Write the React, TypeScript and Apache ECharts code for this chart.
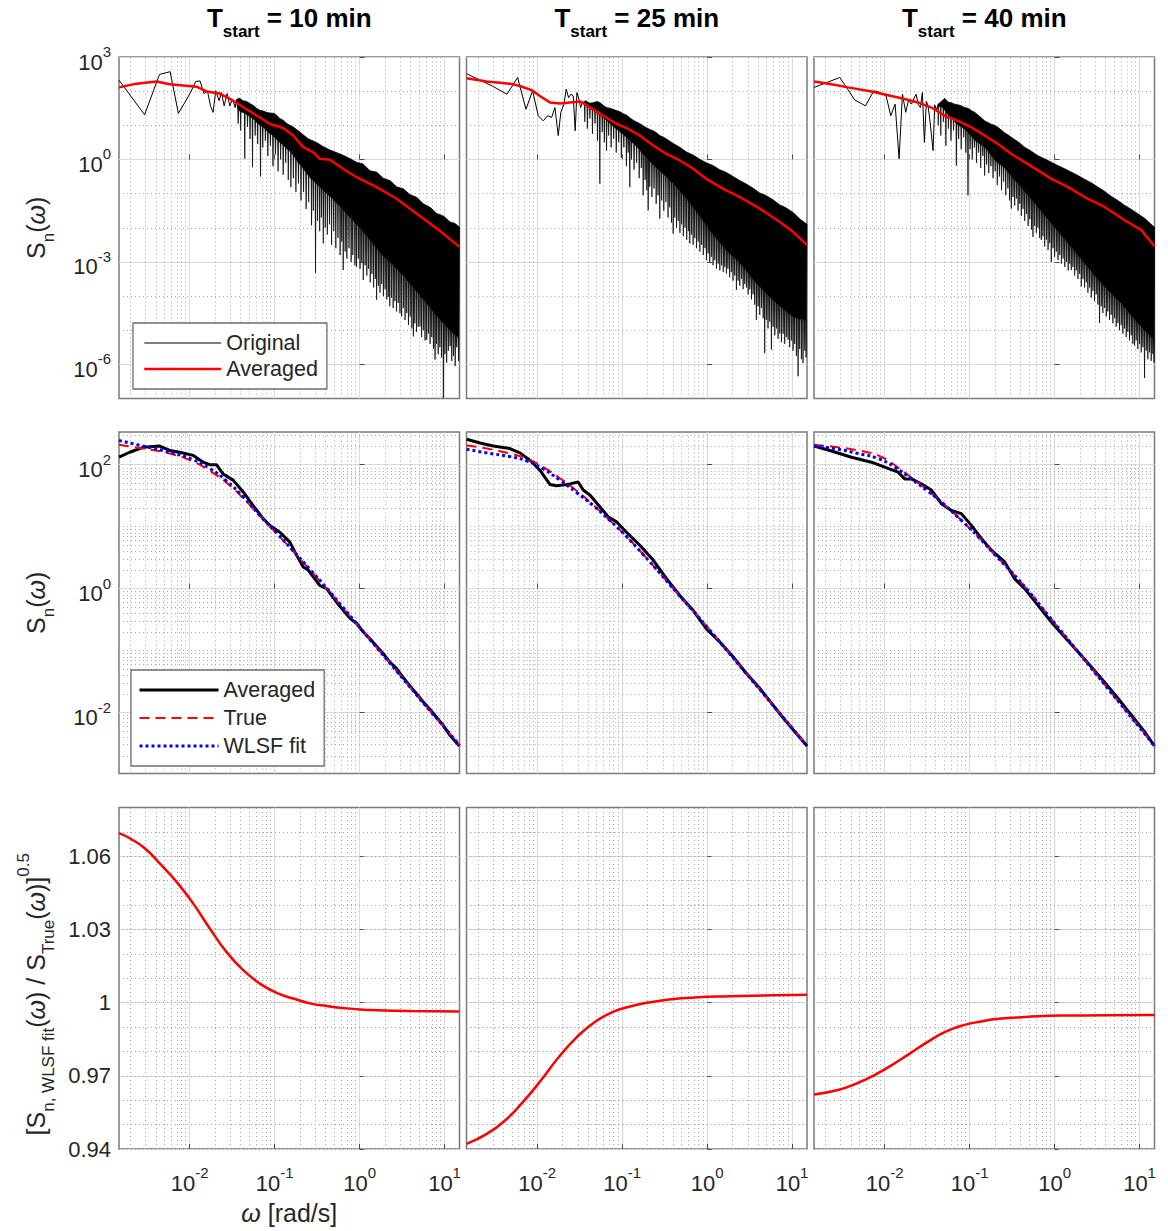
import React, { useEffect, useRef } from 'react';
import * as echarts from 'echarts';

// ---------------------------------------------------------------------------
// Axis ranges (the log axes are drawn on log10 scales: values below are log10)
// ---------------------------------------------------------------------------
const W_MIN = -2.833; // log10(omega) at left edge
const W_MAX = 1.176; // log10(omega) at right edge
const TOP_S_MIN = -7;
const TOP_S_MAX = 3;
const MID_S_MIN = -2.984;
const MID_S_MAX = 2.527;
const RATIO_MIN = 0.94;
const RATIO_MAX = 1.08;

const X_TICKS = [-2, -1, 0, 1];
const TOP_Y_TICKS = [-6, -3, 0, 3];
const MID_Y_TICKS = [-2, 0, 2];
const BOT_Y_TICKS = [0.94, 0.97, 1, 1.03, 1.06];

const T_START = ['10', '25', '40'];

// ---------------------------------------------------------------------------
// Row 1: original periodogram (log10 omega, log10 S)
// sparse low-frequency part (individual FFT bins)
// ---------------------------------------------------------------------------
const origSparseT10 = [
  [-2.833, 2.32], [-2.532, 1.31], [-2.356, 2.49], [-2.231, 2.57], [-2.134, 1.35], [-2.055, 1.68],
  [-1.988, 1.98], [-1.93, 2.28], [-1.879, 2.3], [-1.833, 1.93], [-1.792, 2.01], [-1.754, 1.55],
  [-1.725, 1.38], [-1.694, 2.01], [-1.654, 1.72], [-1.627, 1.96], [-1.595, 1.57], [-1.56, 1.93],
  [-1.528, 1.57], [-1.497, 1.77], [-1.465, 1.52], [-1.45, 1.75],
];
const origSparseT25 = [
  [-2.831, 2.51], [-2.529, 2.15], [-2.357, 1.91], [-2.231, 2.4], [-2.133, 1.47], [-2.055, 2.01],
  [-1.988, 1.28], [-1.929, 1.13], [-1.878, 1.28], [-1.831, 1.23], [-1.792, 1.52], [-1.753, 0.7],
  [-1.722, 1.38], [-1.686, 1.62], [-1.659, 2.06], [-1.631, 1.81], [-1.604, 1.91], [-1.576, 1.86],
  [-1.553, 0.84], [-1.533, 1.96], [-1.51, 1.77], [-1.49, 1.52], [-1.467, 1.67],
];
const origSparseT40 = [
  [-2.831, 2.11], [-2.529, 2.4], [-2.353, 1.74], [-2.227, 1.57], [-2.129, 2.01], [-2.051, 1.96],
  [-1.984, 1.86], [-1.929, 1.28], [-1.878, 1.62], [-1.831, 0.02], [-1.792, 1.91], [-1.753, 1.38],
  [-1.722, 1.72], [-1.686, 1.62], [-1.659, 1.77], [-1.631, 1.91], [-1.604, 1.6], [-1.58, 1.52],
  [-1.557, 1.96], [-1.533, 0.5], [-1.51, 1.7], [-1.49, 1.57], [-1.471, 1.2], [-1.431, 0.26],
  [-1.412, 1.6], [-1.392, 1.45],
];

// dense part: upper edge of the black band (log10 omega, log10 S)
const origUpperT10 = [
  [-1.45, 1.75], [-1.42, 1.8], [-1.371, 1.72], [-1.33, 1.7], [-1.293, 1.64], [-1.25, 1.58],
  [-1.214, 1.5], [-1.175, 1.44], [-1.136, 1.42], [-1.095, 1.38], [-1.057, 1.36], [-1.01, 1.35],
  [-0.979, 1.3], [-0.94, 1.2], [-0.9, 1.15], [-0.86, 1.06], [-0.821, 1.0], [-0.78, 0.95],
  [-0.743, 0.88], [-0.7, 0.8], [-0.664, 0.72], [-0.6, 0.6], [-0.507, 0.5], [-0.43, 0.38],
  [-0.35, 0.28], [-0.27, 0.2], [-0.193, 0.12], [-0.11, 0.02], [-0.036, -0.08], [0.04, -0.13],
  [0.122, -0.33], [0.2, -0.37], [0.279, -0.55], [0.358, -0.62], [0.436, -0.8], [0.515, -0.86],
  [0.593, -1.03], [0.672, -1.11], [0.75, -1.3], [0.83, -1.4], [0.908, -1.58], [0.99, -1.66],
  [1.065, -1.83], [1.12, -1.87], [1.176, -1.98],
];
const origUpperT25 = [
  [-1.467, 1.67], [-1.43, 1.72], [-1.39, 1.65], [-1.341, 1.66], [-1.3, 1.7], [-1.263, 1.67],
  [-1.22, 1.58], [-1.184, 1.52], [-1.145, 1.5], [-1.106, 1.47], [-1.067, 1.43], [-1.027, 1.4],
  [-0.988, 1.34], [-0.949, 1.3], [-0.91, 1.22], [-0.87, 1.15], [-0.832, 1.1], [-0.792, 1.05],
  [-0.75, 0.98], [-0.713, 0.93], [-0.674, 0.88], [-0.635, 0.84], [-0.596, 0.78], [-0.557, 0.7],
  [-0.518, 0.66], [-0.478, 0.6], [-0.4, 0.47], [-0.322, 0.36], [-0.243, 0.22], [-0.165, 0.13],
  [-0.09, 0.01], [-0.008, -0.1], [0.071, -0.18], [0.15, -0.3], [0.227, -0.38], [0.306, -0.5],
  [0.385, -0.62], [0.463, -0.72], [0.541, -0.84], [0.62, -0.98], [0.698, -1.06], [0.776, -1.18],
  [0.855, -1.33], [0.933, -1.42], [1.012, -1.55], [1.09, -1.74], [1.176, -1.9],
];
const origUpperT40 = [
  [-1.392, 1.45], [-1.373, 1.62], [-1.334, 1.7], [-1.294, 1.79], [-1.255, 1.68], [-1.216, 1.66],
  [-1.176, 1.62], [-1.137, 1.6], [-1.098, 1.57], [-1.059, 1.52], [-1.02, 1.5], [-0.98, 1.43],
  [-0.941, 1.38], [-0.902, 1.3], [-0.863, 1.22], [-0.824, 1.13], [-0.784, 1.08], [-0.745, 1.03],
  [-0.706, 1.0], [-0.667, 0.94], [-0.627, 0.86], [-0.588, 0.78], [-0.549, 0.72], [-0.51, 0.65],
  [-0.431, 0.52], [-0.353, 0.36], [-0.274, 0.24], [-0.196, 0.11], [-0.118, 0.02], [-0.039, -0.08],
  [0.039, -0.18], [0.118, -0.27], [0.196, -0.37], [0.275, -0.47], [0.353, -0.58], [0.431, -0.68],
  [0.51, -0.81], [0.588, -0.93], [0.666, -1.08], [0.745, -1.2], [0.823, -1.34], [0.902, -1.46],
  [0.98, -1.59], [1.059, -1.72], [1.137, -1.9], [1.176, -1.98],
];

// dense part: downward spikes [log10 omega, log10 S at the band bottom, log10 S at the spike tip]
const origSpikesT10 = [
  [-1.43, 1.45, 1.05], [-1.4, 1.4, 0.85], [-1.352, 1.35, 0.02], [-1.32, 1.3, 0.95], [-1.29, 1.25, 0.6],
  [-1.261, 1.2, -0.23], [-1.23, 1.15, 0.7], [-1.2, 1.05, 0.45], [-1.167, 1.0, -0.5], [-1.14, 0.95, 0.35],
  [-1.11, 0.9, 0.55], [-1.08, 0.8, 0.1], [-1.05, 0.75, 0.4], [-1.02, 0.7, -0.2], [-0.99, 0.62, 0.15],
  [-0.96, 0.55, -0.35], [-0.93, 0.48, 0.0], [-0.9, 0.42, -0.45], [-0.87, 0.35, -0.1], [-0.84, 0.28, -0.6],
  [-0.809, 0.22, -0.81], [-0.78, 0.12, -0.55], [-0.75, 0.02, -0.95], [-0.72, -0.1, -0.7], [-0.69, -0.18, -1.2],
  [-0.66, -0.28, -0.95], [-0.63, -0.38, -1.45], [-0.6, -0.48, -1.25], [-0.566, -0.58, -1.93], [-0.545, -0.62, -1.5],
  [-0.519, -0.68, -3.32], [-0.495, -0.74, -1.8], [-0.47, -0.8, -2.1], [-0.45, -0.85, -1.7], [-0.428, -0.9, -2.46],
  [-0.405, -0.95, -2.0], [-0.38, -1.0, -2.2], [-0.355, -1.08, -1.9], [-0.33, -1.12, -2.5], [-0.305, -1.18, -2.1],
  [-0.28, -1.25, -2.6], [-0.255, -1.32, -2.3], [-0.23, -1.38, -2.8], [-0.21, -1.43, -2.4], [-0.193, -1.48, -3.24],
  [-0.17, -1.55, -2.7], [-0.15, -1.6, -2.9], [-0.125, -1.66, -2.6], [-0.1, -1.73, -3.0], [-0.08, -1.78, -2.8],
  [-0.055, -1.85, -3.1], [-0.036, -1.9, -3.14], [-0.015, -1.95, -2.9], [0.005, -2.0, -3.2], [0.025, -2.06, -3.0],
  [0.043, -2.12, -3.53], [0.065, -2.18, -3.1], [0.085, -2.24, -3.4], [0.105, -2.3, -3.2], [0.125, -2.36, -3.6],
  [0.145, -2.42, -3.35], [0.165, -2.48, -3.75], [0.185, -2.55, -3.5], [0.2, -2.6, -4.11], [0.22, -2.66, -3.7],
  [0.24, -2.72, -3.9], [0.26, -2.78, -3.65], [0.28, -2.84, -4.0], [0.3, -2.88, -3.8], [0.32, -2.92, -4.1],
  [0.338, -2.96, -4.02], [0.355, -3.0, -4.3], [0.375, -3.05, -4.05], [0.395, -3.1, -4.35], [0.415, -3.15, -4.15],
  [0.435, -3.2, -4.45], [0.455, -3.25, -4.2], [0.475, -3.3, -4.5], [0.495, -3.35, -4.6], [0.515, -3.4, -4.35],
  [0.535, -3.45, -4.7], [0.555, -3.52, -4.5], [0.575, -3.58, -4.85], [0.595, -3.64, -4.6], [0.615, -3.7, -4.95],
  [0.633, -3.75, -5.18], [0.65, -3.8, -4.8], [0.67, -3.86, -5.05], [0.69, -3.92, -4.9], [0.711, -3.98, -4.89],
  [0.73, -4.04, -5.2], [0.75, -4.1, -5.0], [0.77, -4.16, -5.3], [0.79, -4.22, -5.28], [0.81, -4.28, -5.1],
  [0.83, -4.34, -5.4], [0.85, -4.4, -5.2], [0.87, -4.46, -5.55], [0.888, -4.52, -5.86], [0.905, -4.56, -5.4],
  [0.925, -4.62, -5.7], [0.945, -4.68, -5.5], [0.965, -4.74, -5.8], [0.986, -4.8, -7.0], [1.005, -4.85, -5.7],
  [1.025, -4.9, -5.95], [1.045, -4.95, -5.6], [1.065, -5.0, -5.47], [1.085, -5.05, -5.9], [1.105, -5.1, -5.75],
  [1.125, -5.14, -6.05], [1.143, -5.18, -5.5], [1.165, -5.2, -5.9],
];
const origSpikesT25 = [
  [-1.44, 1.6, 1.1], [-1.41, 1.55, 0.9], [-1.38, 1.5, 1.2], [-1.35, 1.45, 0.75], [-1.32, 1.4, 1.05],
  [-1.29, 1.35, 0.55], [-1.263, 1.3, -0.71], [-1.235, 1.25, 0.8], [-1.21, 1.2, 0.5], [-1.184, 1.15, 0.26],
  [-1.16, 1.1, 0.7], [-1.13, 1.02, 0.35], [-1.1, 0.96, 0.6], [-1.07, 0.9, 0.2], [-1.04, 0.84, 0.5],
  [-1.01, 0.78, 0.05], [-0.98, 0.72, 0.35], [-0.95, 0.65, -0.2], [-0.93, 0.6, 0.2], [-0.91, 0.56, -0.81],
  [-0.89, 0.52, 0.0], [-0.86, 0.45, -0.3], [-0.83, 0.38, -0.1], [-0.8, 0.3, -0.55], [-0.775, 0.22, -0.25],
  [-0.753, 0.16, -1.05], [-0.73, 0.1, -0.6], [-0.71, 0.04, -0.9], [-0.694, 0.0, -1.49], [-0.675, -0.05, -0.8],
  [-0.65, -0.12, -1.1], [-0.625, -0.18, -0.85], [-0.6, -0.24, -1.3], [-0.578, -0.28, -1.05], [-0.557, -0.32, -1.73],
  [-0.535, -0.38, -1.2], [-0.51, -0.44, -1.5], [-0.485, -0.5, -1.25], [-0.46, -0.56, -1.7], [-0.44, -0.62, -1.4],
  [-0.42, -0.66, -1.85], [-0.4, -0.7, -2.17], [-0.38, -0.75, -1.7], [-0.36, -0.81, -2.0], [-0.34, -0.87, -1.8],
  [-0.32, -0.93, -2.15], [-0.3, -0.98, -1.9], [-0.28, -1.04, -2.25], [-0.26, -1.1, -2.0], [-0.24, -1.16, -2.35],
  [-0.22, -1.22, -2.1], [-0.204, -1.28, -2.46], [-0.185, -1.34, -2.2], [-0.165, -1.39, -2.5], [-0.145, -1.46, -2.3],
  [-0.125, -1.53, -2.6], [-0.105, -1.6, -2.4], [-0.085, -1.66, -2.7], [-0.065, -1.73, -2.5], [-0.045, -1.8, -2.8],
  [-0.025, -1.87, -2.6], [-0.008, -1.92, -2.95], [0.012, -1.99, -2.75], [0.031, -2.07, -3.0], [0.05, -2.13, -2.85],
  [0.07, -2.19, -3.1], [0.09, -2.25, -2.95], [0.11, -2.31, -3.2], [0.13, -2.37, -3.05], [0.15, -2.43, -3.25],
  [0.17, -2.49, -3.1], [0.19, -2.55, -3.3], [0.208, -2.6, -3.15], [0.227, -2.66, -3.34], [0.245, -2.7, -3.2],
  [0.265, -2.75, -3.45], [0.285, -2.8, -3.3], [0.305, -2.84, -3.55], [0.325, -2.89, -3.4], [0.345, -2.94, -3.82],
  [0.365, -2.98, -3.55], [0.385, -3.03, -3.7], [0.405, -3.08, -3.5], [0.424, -3.14, -3.8], [0.443, -3.2, -3.65],
  [0.463, -3.26, -3.75], [0.483, -3.32, -3.95], [0.503, -3.38, -3.8], [0.522, -3.44, -4.1], [0.541, -3.5, -3.95],
  [0.56, -3.56, -4.25], [0.58, -3.62, -4.7], [0.6, -3.67, -4.3], [0.62, -3.72, -4.55], [0.64, -3.77, -4.35],
  [0.66, -3.82, -4.65], [0.678, -3.87, -5.67], [0.697, -3.92, -4.7], [0.717, -3.97, -4.95], [0.737, -4.02, -4.75],
  [0.757, -4.07, -5.57], [0.777, -4.12, -4.9], [0.797, -4.16, -5.15], [0.816, -4.21, -4.95], [0.835, -4.25, -5.25],
  [0.855, -4.29, -5.09], [0.875, -4.33, -5.35], [0.895, -4.37, -5.1], [0.914, -4.41, -5.4], [0.933, -4.45, -5.2],
  [0.953, -4.49, -5.28], [0.972, -4.53, -5.5], [0.992, -4.57, -5.3], [1.012, -4.6, -5.6], [1.031, -4.62, -5.4],
  [1.051, -4.64, -5.75], [1.071, -4.66, -6.35], [1.09, -4.67, -5.55], [1.11, -4.68, -5.85], [1.129, -4.69, -5.96],
  [1.15, -4.7, -5.6], [1.165, -4.7, -5.8],
];
const origSpikesT40 = [
  [-1.37, 1.55, 1.0], [-1.34, 1.55, 0.7], [-1.31, 1.5, 1.1], [-1.28, 1.4, 0.4], [-1.25, 1.3, 0.9],
  [-1.22, 1.22, 0.55], [-1.19, 1.15, 0.85], [-1.157, 1.05, -0.18], [-1.13, 1.0, 0.6], [-1.1, 0.96, 0.3],
  [-1.07, 0.92, 0.65], [-1.045, 0.85, 0.2], [-1.02, 0.8, -1.05], [-0.995, 0.72, 0.3], [-0.97, 0.65, 0.0],
  [-0.945, 0.58, 0.35], [-0.92, 0.52, -0.1], [-0.895, 0.48, 0.2], [-0.87, 0.44, -0.25], [-0.845, 0.4, 0.1],
  [-0.824, 0.36, -0.47], [-0.8, 0.3, -0.15], [-0.775, 0.22, -0.4], [-0.75, 0.14, -0.2], [-0.725, 0.06, -0.55],
  [-0.7, -0.02, -0.35], [-0.675, -0.08, -0.75], [-0.65, -0.13, -0.5], [-0.625, -0.18, -0.9], [-0.6, -0.22, -0.65],
  [-0.575, -0.28, -1.05], [-0.55, -0.36, -0.85], [-0.53, -0.42, -1.2], [-0.51, -0.48, -1.44], [-0.49, -0.54, -1.1],
  [-0.47, -0.6, -1.35], [-0.45, -0.65, -1.15], [-0.43, -0.7, -1.5], [-0.41, -0.76, -1.3], [-0.392, -0.81, -1.65],
  [-0.372, -0.87, -1.45], [-0.352, -0.93, -1.8], [-0.332, -0.99, -1.6], [-0.312, -1.05, -1.95], [-0.292, -1.11, -1.75],
  [-0.272, -1.17, -2.05], [-0.255, -1.22, -2.27], [-0.235, -1.27, -1.95], [-0.215, -1.33, -2.15], [-0.196, -1.39, -2.0],
  [-0.176, -1.45, -2.3], [-0.157, -1.51, -2.36], [-0.137, -1.57, -2.25], [-0.117, -1.63, -2.55], [-0.097, -1.69, -2.35],
  [-0.077, -1.75, -2.65], [-0.058, -1.81, -2.45], [-0.039, -1.87, -3.0], [-0.019, -1.92, -2.6], [0.0, -1.98, -2.85],
  [0.02, -2.04, -2.7], [0.04, -2.1, -2.95], [0.06, -2.16, -2.8], [0.08, -2.22, -3.05], [0.1, -2.28, -2.9],
  [0.12, -2.34, -3.15], [0.14, -2.4, -3.0], [0.16, -2.46, -3.25], [0.178, -2.51, -3.05], [0.196, -2.56, -3.24],
  [0.216, -2.62, -3.15], [0.236, -2.68, -3.4], [0.255, -2.74, -3.25], [0.275, -2.8, -3.5], [0.295, -2.86, -3.35],
  [0.314, -2.91, -3.72], [0.334, -2.97, -3.5], [0.353, -3.03, -3.75], [0.373, -3.09, -3.6], [0.392, -3.14, -3.9],
  [0.412, -3.2, -3.75], [0.431, -3.26, -4.05], [0.451, -3.32, -3.85], [0.47, -3.38, -4.15], [0.49, -3.44, -3.95],
  [0.51, -3.5, -4.25], [0.529, -3.56, -4.79], [0.549, -3.62, -4.3], [0.568, -3.67, -4.5], [0.588, -3.72, -4.35],
  [0.608, -3.77, -4.6], [0.627, -3.82, -4.45], [0.647, -3.87, -4.7], [0.666, -3.92, -4.55], [0.686, -3.97, -4.8],
  [0.706, -4.02, -4.65], [0.725, -4.07, -4.9], [0.745, -4.12, -4.79], [0.764, -4.16, -5.0], [0.784, -4.21, -4.85],
  [0.804, -4.27, -5.1], [0.823, -4.33, -4.95], [0.843, -4.39, -5.2], [0.862, -4.44, -5.05], [0.882, -4.5, -5.3],
  [0.902, -4.56, -5.15], [0.921, -4.62, -5.4], [0.941, -4.67, -5.45], [0.96, -4.73, -5.3], [0.98, -4.79, -5.55],
  [1.0, -4.84, -5.4], [1.02, -4.9, -5.65], [1.04, -4.95, -5.5], [1.059, -5.0, -6.4], [1.079, -5.05, -5.6],
  [1.098, -5.1, -5.85], [1.118, -5.15, -5.65], [1.137, -5.2, -5.9], [1.157, -5.24, -5.7], [1.17, -5.27, -5.95],
];

// Row 1: averaged periodogram (red)
const avgTopT10 = [
  [-2.833, 2.11], [-2.629, 2.22], [-2.393, 2.28], [-2.236, 2.2], [-1.921, 2.13], [-1.804, 1.99],
  [-1.647, 1.93], [-1.489, 1.72], [-1.332, 1.47], [-1.175, 1.23], [-1.057, 1.04], [-0.9, 0.92],
  [-0.782, 0.7], [-0.664, 0.36], [-0.546, 0.21], [-0.468, 0.02], [-0.35, -0.01], [-0.193, -0.28],
  [-0.036, -0.52], [0.2, -0.81], [0.436, -1.15], [0.672, -1.59], [0.908, -2.02], [1.176, -2.56],
];
const avgTopT25 = [
  [-2.831, 2.38], [-2.596, 2.28], [-2.322, 2.22], [-2.204, 2.15], [-2.067, 2.03], [-1.969, 1.86],
  [-1.851, 1.67], [-1.733, 1.64], [-1.616, 1.67], [-1.498, 1.7], [-1.439, 1.62], [-1.341, 1.47],
  [-1.224, 1.28], [-1.067, 1.04], [-0.949, 0.92], [-0.792, 0.7], [-0.635, 0.41], [-0.478, 0.16],
  [-0.322, -0.03], [-0.165, -0.27], [-0.008, -0.57], [0.188, -0.86], [0.384, -1.1], [0.62, -1.44],
  [0.855, -1.83], [1.012, -2.12], [1.176, -2.51],
];
const avgTopT40 = [
  [-2.831, 2.28], [-2.627, 2.2], [-2.431, 2.11], [-2.157, 1.99], [-1.922, 1.86], [-1.765, 1.77],
  [-1.608, 1.67], [-1.451, 1.52], [-1.294, 1.28], [-1.137, 1.13], [-0.98, 0.94], [-0.824, 0.7],
  [-0.667, 0.45], [-0.51, 0.16], [-0.353, -0.08], [-0.196, -0.32], [-0.039, -0.57], [0.157, -0.81],
  [0.353, -1.1], [0.588, -1.39], [0.824, -1.78], [1.02, -2.07], [1.176, -2.54],
];

// ---------------------------------------------------------------------------
// Row 2: averaged (black), true (red dashed), WLSF fit (blue dotted)
// ---------------------------------------------------------------------------
const avgMidT10 = [
  [-2.833, 2.12], [-2.707, 2.2], [-2.55, 2.28], [-2.354, 2.3], [-2.236, 2.23], [-2.118, 2.2],
  [-1.961, 2.15], [-1.843, 2.04], [-1.764, 2.0], [-1.686, 2.0], [-1.607, 1.85], [-1.489, 1.75],
  [-1.371, 1.56], [-1.253, 1.34], [-1.136, 1.13], [-1.057, 1.02], [-0.939, 0.91], [-0.821, 0.75],
  [-0.743, 0.54], [-0.664, 0.35], [-0.606, 0.3], [-0.546, 0.19], [-0.468, 0.05], [-0.389, 0.0],
  [-0.271, -0.22], [-0.114, -0.48], [-0.036, -0.56], [0.043, -0.7], [0.122, -0.81], [0.2, -0.93],
  [0.279, -1.05], [0.358, -1.19], [0.436, -1.29], [0.515, -1.44], [0.593, -1.57], [0.672, -1.7],
  [0.75, -1.83], [0.83, -1.95], [0.908, -2.08], [0.986, -2.21], [1.065, -2.37], [1.176, -2.54],
];
const trueMidT10 = [
  [-2.833, 2.32], [-2.55, 2.26], [-2.236, 2.18], [-1.961, 2.05], [-1.764, 1.9], [-1.568, 1.71],
  [-1.371, 1.46], [-1.175, 1.17], [-0.978, 0.89], [-0.782, 0.6], [-0.585, 0.3], [-0.389, 0.0],
  [-0.192, -0.32], [0.004, -0.64], [0.2, -0.95], [0.397, -1.27], [0.593, -1.59], [0.79, -1.91],
  [0.986, -2.22], [1.176, -2.53],
];
const wlsfMidT10 = [
  [-2.833, 2.39], [-2.55, 2.3], [-2.236, 2.2], [-1.961, 2.08], [-1.764, 1.94], [-1.568, 1.74],
  [-1.371, 1.48], [-1.175, 1.18], [-0.978, 0.9], [-0.782, 0.61], [-0.585, 0.31], [-0.389, 0.01],
  [-0.192, -0.31], [0.004, -0.63], [0.2, -0.95], [0.397, -1.27], [0.593, -1.59], [0.79, -1.91],
  [0.986, -2.22], [1.176, -2.53],
];
const avgMidT25 = [
  [-2.831, 2.41], [-2.675, 2.35], [-2.518, 2.3], [-2.322, 2.26], [-2.204, 2.19], [-2.067, 2.05],
  [-1.969, 1.91], [-1.851, 1.68], [-1.773, 1.66], [-1.694, 1.67], [-1.616, 1.69], [-1.518, 1.72],
  [-1.459, 1.59], [-1.38, 1.51], [-1.263, 1.32], [-1.165, 1.16], [-1.067, 1.08], [-0.949, 0.91],
  [-0.792, 0.7], [-0.635, 0.46], [-0.478, 0.16], [-0.322, -0.11], [-0.165, -0.35], [-0.008, -0.65],
  [0.149, -0.86], [0.306, -1.1], [0.463, -1.37], [0.62, -1.61], [0.776, -1.88], [0.933, -2.15],
  [1.176, -2.54],
];
const trueMidT25 = [
  [-2.831, 2.31], [-2.596, 2.26], [-2.322, 2.18], [-2.125, 2.1], [-1.929, 1.96], [-1.733, 1.78],
  [-1.537, 1.58], [-1.341, 1.35], [-1.145, 1.1], [-0.949, 0.84], [-0.753, 0.55], [-0.557, 0.25],
  [-0.361, -0.06], [-0.165, -0.36], [0.031, -0.67], [0.227, -0.99], [0.424, -1.31], [0.62, -1.63],
  [0.816, -1.95], [1.012, -2.27], [1.176, -2.54],
];
const wlsfMidT25 = [
  [-2.831, 2.25], [-2.596, 2.19], [-2.322, 2.13], [-2.125, 2.06], [-1.929, 1.93], [-1.733, 1.75],
  [-1.537, 1.55], [-1.341, 1.34], [-1.145, 1.1], [-0.949, 0.84], [-0.753, 0.55], [-0.557, 0.25],
  [-0.361, -0.06], [-0.165, -0.36], [0.031, -0.67], [0.227, -0.99], [0.424, -1.31], [0.62, -1.63],
  [0.816, -1.95], [1.012, -2.27], [1.176, -2.54],
];
const avgMidT40 = [
  [-2.831, 2.3], [-2.627, 2.22], [-2.392, 2.12], [-2.157, 2.04], [-1.961, 1.94], [-1.843, 1.88],
  [-1.765, 1.77], [-1.686, 1.77], [-1.569, 1.69], [-1.451, 1.59], [-1.333, 1.37], [-1.216, 1.26],
  [-1.098, 1.21], [-0.98, 1.02], [-0.863, 0.81], [-0.745, 0.62], [-0.588, 0.43], [-0.471, 0.16],
  [-0.353, 0.0], [-0.196, -0.27], [-0.039, -0.54], [0.118, -0.78], [0.275, -1.02], [0.431, -1.26],
  [0.588, -1.51], [0.745, -1.77], [0.902, -2.04], [1.059, -2.31], [1.176, -2.54],
];
const trueMidT40 = [
  [-2.831, 2.32], [-2.549, 2.28], [-2.314, 2.23], [-2.078, 2.15], [-1.882, 1.99], [-1.686, 1.79],
  [-1.49, 1.58], [-1.294, 1.35], [-1.098, 1.1], [-0.902, 0.84], [-0.706, 0.55], [-0.51, 0.27],
  [-0.314, -0.03], [-0.118, -0.36], [0.078, -0.69], [0.275, -1.02], [0.471, -1.35], [0.667, -1.68],
  [0.863, -2.01], [1.059, -2.34], [1.176, -2.54],
];
const wlsfMidT40 = [
  [-2.831, 2.3], [-2.549, 2.25], [-2.314, 2.18], [-2.078, 2.1], [-1.882, 1.96], [-1.686, 1.77],
  [-1.49, 1.57], [-1.294, 1.35], [-1.098, 1.1], [-0.902, 0.84], [-0.706, 0.55], [-0.51, 0.27],
  [-0.314, -0.03], [-0.118, -0.36], [0.078, -0.69], [0.275, -1.02], [0.471, -1.35], [0.667, -1.68],
  [0.863, -2.01], [1.059, -2.34], [1.176, -2.54],
];

// ---------------------------------------------------------------------------
// Row 3: [S_WLSF / S_true]^0.5 (log10 omega, ratio)
// ---------------------------------------------------------------------------
const ratioT10 = [
  [-2.833, 1.0695], [-2.707, 1.0674], [-2.53, 1.0633], [-2.354, 1.0571], [-2.157, 1.0496],
  [-1.961, 1.0407], [-1.764, 1.0304], [-1.568, 1.0208], [-1.371, 1.0133], [-1.175, 1.0078],
  [-0.978, 1.004], [-0.782, 1.0017], [-0.585, 0.9997], [-0.389, 0.9986], [-0.192, 0.9978],
  [0.004, 0.9972], [0.2, 0.9969], [0.593, 0.9966], [1.176, 0.9964],
];
const ratioT25 = [
  [-2.832, 0.9421], [-2.594, 0.9462], [-2.382, 0.9516], [-2.17, 0.9592], [-1.958, 0.9681],
  [-1.746, 0.9777], [-1.534, 0.9859], [-1.322, 0.9921], [-1.11, 0.9962], [-0.898, 0.9985],
  [-0.686, 1.0001], [-0.421, 1.0014], [-0.156, 1.0021], [0.268, 1.0026], [0.798, 1.003],
  [1.176, 1.0032],
];
const ratioT40 = [
  [-2.831, 0.9623], [-2.553, 0.9642], [-2.342, 0.9667], [-2.132, 0.9701], [-1.921, 0.9743],
  [-1.711, 0.979], [-1.5, 0.9838], [-1.289, 0.988], [-1.079, 0.9907], [-0.868, 0.9923],
  [-0.658, 0.9934], [-0.342, 0.9941], [0.079, 0.9947], [0.605, 0.9948], [1.176, 0.9949],
];

// ---------------------------------------------------------------------------
// Styling / layout
// ---------------------------------------------------------------------------
const FONT = '"Liberation Sans", Arial, Helvetica, sans-serif';
const INK = '#262626';
const BOX = '#7a7a7a';
const TICK = '#4a4a4a';
const MAJOR_GRID = '#dadada';
const MINOR_GRID = '#a9a9a9';
const RED = '#ff0000';
const BLUE = '#0000ff';

const COL_LEFT = [119, 466.5, 814];
const ROW_TOP = [57, 432, 807.5];
const PANEL_W = 340.5;
const PANEL_H = 341.5;
const SPIKE_HALF = 0.0045; // half width of a drawn spike, in log10(omega) units
const SMOOTH = 0.5;

const TICK_FS = 22;
const POW_RICH = {
  b: { fontSize: TICK_FS, fontFamily: FONT, color: INK, lineHeight: 36, verticalAlign: 'middle' },
  s: { fontSize: 15, fontFamily: FONT, color: INK, lineHeight: 12, verticalAlign: 'top' },
};
const NAME_RICH = {
  m: { fontSize: 25, fontFamily: FONT, color: INK, lineHeight: 42, verticalAlign: 'middle' },
  w: { fontSize: 25, fontFamily: FONT, fontStyle: 'italic', color: INK, lineHeight: 42, verticalAlign: 'middle' },
  sub: { fontSize: 17, fontFamily: FONT, color: INK, lineHeight: 14, verticalAlign: 'bottom' },
  sup: { fontSize: 17, fontFamily: FONT, color: INK, lineHeight: 14, verticalAlign: 'top' },
};

const powLabel = (v: number) => `{b|10}{s|${Math.round(v)}}`;
const numLabel = (v: number) => String(parseFloat(v.toFixed(2)));

function logMinor(lo: number, hi: number, decadeLines: number[]) {
  const out: number[] = [];
  for (let d = Math.floor(lo); d <= Math.ceil(hi); d++) {
    for (let k = 1; k <= 9; k++) {
      if (k === 1 && decadeLines.indexOf(d) < 0) continue;
      const v = d + Math.log10(k);
      if (v > lo + 1e-6 && v < hi - 1e-6) out.push(v);
    }
  }
  return out;
}

function massOutline(upper: number[][], spikes: number[][]) {
  const lower: number[][] = [];
  spikes.forEach(([w, base, tip]) => {
    lower.push([w - SPIKE_HALF, base], [w, tip], [w + SPIKE_HALF, base]);
  });
  return upper.concat(lower.reverse());
}

function buildOption() {
  const xMinor = logMinor(W_MIN, W_MAX, []);
  const yMinorRows = [
    [-5, -4, -2, -1, 1, 2],
    logMinor(MID_S_MIN, MID_S_MAX, [-1, 1]),
    (() => {
      const out: number[] = [];
      for (let i = 1; i < 28; i++) if (i % 6 !== 0) out.push(RATIO_MIN + i * 0.005);
      return out;
    })(),
  ];
  const yRange = [
    [TOP_S_MIN, TOP_S_MAX],
    [MID_S_MIN, MID_S_MAX],
    [RATIO_MIN, RATIO_MAX],
  ];
  const yTicks = [TOP_Y_TICKS, MID_Y_TICKS, BOT_Y_TICKS];

  const sparse = [origSparseT10, origSparseT25, origSparseT40];
  const uppers = [origUpperT10, origUpperT25, origUpperT40];
  const spikes = [origSpikesT10, origSpikesT25, origSpikesT40];
  const avgTop = [avgTopT10, avgTopT25, avgTopT40];
  const avgMid = [avgMidT10, avgMidT25, avgMidT40];
  const trueMid = [trueMidT10, trueMidT25, trueMidT40];
  const wlsfMid = [wlsfMidT10, wlsfMidT25, wlsfMidT40];
  const ratio = [ratioT10, ratioT25, ratioT40];

  const grid: any[] = [];
  const xAxis: any[] = [];
  const yAxis: any[] = [];
  const series: any[] = [];

  for (let r = 0; r < 3; r++) {
    for (let c = 0; c < 3; c++) {
      const i = r * 3 + c;
      grid.push({
        left: COL_LEFT[c], top: ROW_TOP[r], width: PANEL_W, height: PANEL_H,
        show: true, borderColor: BOX, borderWidth: 1.5, backgroundColor: 'transparent',
      });
      const xa: any = {
        type: 'value', gridIndex: i, min: W_MIN, max: W_MAX,
        axisLine: { show: false },
        axisTick: { show: true, inside: true, length: 5, lineStyle: { color: TICK }, customValues: X_TICKS },
        axisLabel: { show: r === 2, customValues: X_TICKS, formatter: powLabel, rich: POW_RICH, margin: 16 },
        splitLine: { show: true, lineStyle: { color: MAJOR_GRID, width: 1 } },
      };
      if (r === 2 && c === 0) {
        xa.name = '{w|ω} [rad/s]';
        xa.nameLocation = 'middle';
        xa.nameGap = 51;
        xa.nameTextStyle = {
          fontSize: 25, fontFamily: FONT, color: INK, lineHeight: 26,
          rich: { w: { fontSize: 25, fontFamily: FONT, fontStyle: 'italic', color: INK, lineHeight: 26 } },
        };
      }
      xAxis.push(xa);

      const ya: any = {
        type: 'value', gridIndex: i, min: yRange[r][0], max: yRange[r][1],
        axisLine: { show: false },
        axisTick: { show: true, inside: true, length: 5, lineStyle: { color: TICK }, customValues: yTicks[r] },
        axisLabel: r < 2
          ? { show: c === 0, customValues: yTicks[r], formatter: powLabel, rich: POW_RICH, margin: 8, padding: [10, 0, 0, 0] }
          : { show: c === 0, customValues: yTicks[r], formatter: numLabel, fontSize: TICK_FS, fontFamily: FONT, color: INK, margin: 8 },
        splitLine: { show: true, lineStyle: { color: MAJOR_GRID, width: 1 } },
      };
      if (c === 0) {
        ya.nameLocation = 'middle';
        ya.nameRotate = 90;
        ya.nameGap = 62;
        ya.nameTextStyle = {
          fontSize: 25, fontFamily: FONT, color: INK, rich: NAME_RICH,
          padding: r === 2 ? [0, 32, 0, 0] : 0,
        };
        ya.name = r < 2
          ? '{m|S}{sub|n}{m|(}{w|ω}{m|)}'
          : '{m|[S}{sub|n, WLSF fit}{m|(}{w|ω}{m|) / S}{sub|True}{m|(}{w|ω}{m|)]}{sup|0.5}';
      }
      yAxis.push(ya);

      // minor (dotted) grid
      series.push({
        type: 'line', name: 'minor-grid-' + i, xAxisIndex: i, yAxisIndex: i, data: [], silent: true, z: 1,
        markLine: {
          silent: true, z: 1, symbol: ['none', 'none'], label: { show: false },
          lineStyle: { color: MINOR_GRID, width: 1, type: [1, 3] },
          emphasis: { disabled: true },
          data: [
            ...xMinor.map((v) => ({ xAxis: v })),
            ...yMinorRows[r].map((v) => ({ yAxis: v })),
          ],
        },
      });

      if (r === 0) {
        const outline = massOutline(uppers[c], spikes[c]);
        series.push({
          type: 'custom', name: 'Original#band' + c, xAxisIndex: i, yAxisIndex: i, silent: true, z: 2, clip: true,
          data: [uppers[c][0]],
          renderItem: (_p: any, api: any) => ({
            type: 'polygon',
            shape: { points: outline.map((p) => api.coord(p)) },
            style: { fill: '#000', stroke: '#000', lineWidth: 0.7 },
          }),
        });
        series.push({
          type: 'line', name: c === 0 ? 'Original' : 'Original#' + c, xAxisIndex: i, yAxisIndex: i,
          data: sparse[c], symbol: 'none', z: 2, lineStyle: { color: '#000', width: 1 }, itemStyle: { color: '#000' },
        });
        series.push({
          type: 'line', name: c === 0 ? 'Averaged' : 'Averaged#top' + c, xAxisIndex: i, yAxisIndex: i,
          data: avgTop[c], symbol: 'none', z: 3, lineStyle: { color: RED, width: 2.5 }, itemStyle: { color: RED },
        });
      } else if (r === 1) {
        series.push({
          type: 'line', name: 'Averaged#mid' + c, xAxisIndex: i, yAxisIndex: i,
          data: avgMid[c], symbol: 'none', z: 2, lineStyle: { color: '#000', width: 3 }, itemStyle: { color: '#000' },
        });
        series.push({
          type: 'line', name: 'True#mid' + c, xAxisIndex: i, yAxisIndex: i, smooth: SMOOTH,
          data: trueMid[c], symbol: 'none', z: 3, lineStyle: { color: RED, width: 2, type: [10, 6] }, itemStyle: { color: RED },
        });
        series.push({
          type: 'line', name: 'WLSF fit#mid' + c, xAxisIndex: i, yAxisIndex: i, smooth: SMOOTH,
          data: wlsfMid[c], symbol: 'none', z: 4, lineStyle: { color: BLUE, width: 3, type: [3, 3] }, itemStyle: { color: BLUE },
        });
      } else {
        series.push({
          type: 'line', name: 'ratio#' + c, xAxisIndex: i, yAxisIndex: i, smooth: SMOOTH,
          data: ratio[c], symbol: 'none', z: 3, lineStyle: { color: RED, width: 2.5 }, itemStyle: { color: RED },
        });
      }
    }
  }

  const legendCommon = {
    orient: 'vertical', selectedMode: false, backgroundColor: '#fff',
    borderColor: '#6e6e6e', borderWidth: 1.3, borderRadius: 0,
    textStyle: { fontSize: 21.5, fontFamily: FONT, color: INK },
    itemStyle: { opacity: 0 },
    lineStyle: { width: 'inherit' },
    formatter: (name: string) => name.split('#')[0],
    z: 10,
  };

  const title = T_START.map((t, c) => ({
    text: `{t|T}{s|start}{t| = ${t} min}`,
    left: COL_LEFT[c] + PANEL_W / 2,
    top: -4.5,
    textAlign: 'center',
    padding: 0,
    textStyle: {
      rich: {
        t: { fontSize: 26, fontWeight: 'bold', fontFamily: FONT, color: '#000', lineHeight: 44, verticalAlign: 'middle' },
        s: { fontSize: 17, fontWeight: 'bold', fontFamily: FONT, color: '#000', lineHeight: 12, verticalAlign: 'bottom' },
      },
    },
  }));

  return {
    animation: false,
    backgroundColor: '#fff',
    title,
    grid,
    xAxis,
    yAxis,
    legend: [
      {
        ...legendCommon,
        left: 133, top: 323, itemWidth: 77, itemHeight: 10, itemGap: 4, padding: [9, 9, 9, 10],
        data: ['Original', 'Averaged'],
      },
      {
        ...legendCommon,
        left: 131, top: 670, itemWidth: 79, itemHeight: 10, itemGap: 6, padding: [9, 9, 9, 7],
        data: ['Averaged#mid0', 'True#mid0', 'WLSF fit#mid0'],
      },
    ],
    series,
  };
}

export default function App() {
  const ref = useRef<HTMLDivElement>(null);
  useEffect(() => {
    if (!ref.current) return;
    const chart = echarts.init(ref.current, null, { renderer: 'svg' });
    chart.setOption(buildOption() as any);
    return () => chart.dispose();
  }, []);
  return (
    <div
      ref={ref}
      style={{ position: 'absolute', left: 0, top: 0, width: 1168, height: 1231, background: '#fff' }}
    />
  );
}
